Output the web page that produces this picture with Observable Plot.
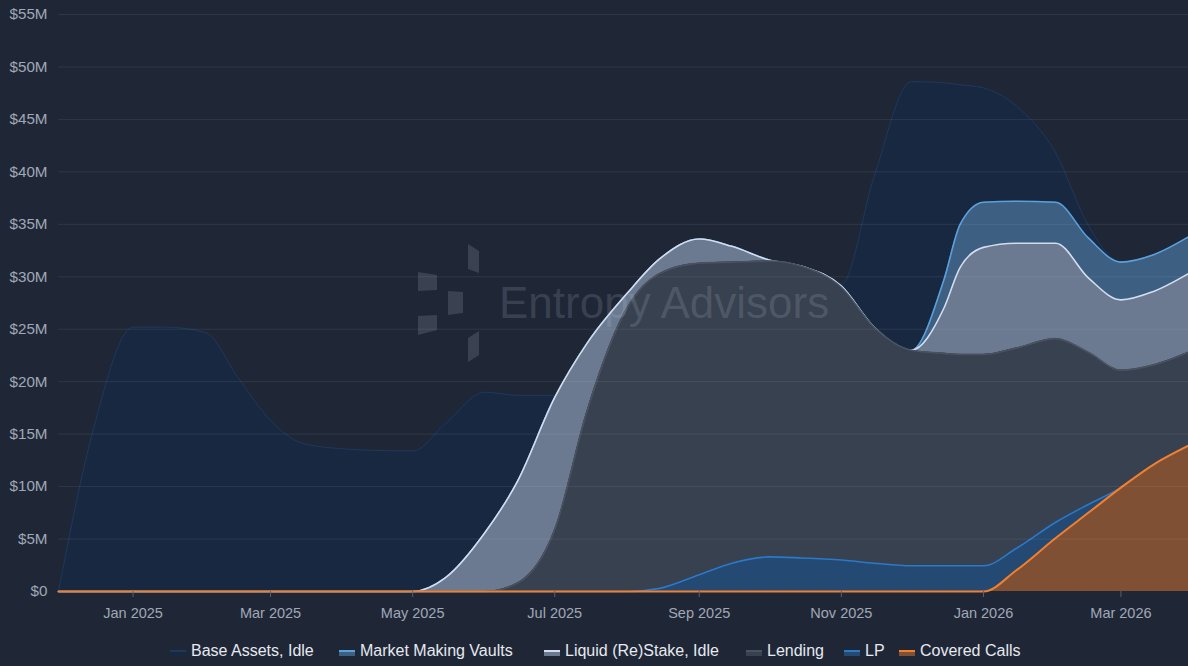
<!DOCTYPE html>
<html>
<head>
<meta charset="utf-8">
<script src="https://cdn.jsdelivr.net/npm/d3@7"></script>
<script src="https://cdn.jsdelivr.net/npm/@observablehq/plot@0.6"></script>
<style>
  html, body { margin: 0; padding: 0; background: #1f2737; }
  #wrap { position: relative; width: 1188px; height: 666px; overflow: hidden; background: #1f2737; }
  #legend {
    position: absolute; left: 0; top: 630px; width: 1188px; height: 36px;
    font-family: "Liberation Sans", Arial, sans-serif; font-size: 16px; color: #e6e9ef;
  }
  .item { position: absolute; top: 12px; display: flex; align-items: center; white-space: nowrap; line-height: 18px; }
  .sw { width: 16px; height: 4px; margin-right: 5px; margin-top: 4px; }
</style>
</head>
<body>
<div id="wrap">
  <div id="chart"></div>
  <div id="legend"></div>
</div>
<script>
// ---- data (values in $M) ----
const dates = [
  "2024-11-30","2024-12-15","2025-01-01","2025-01-15","2025-02-01","2025-02-15",
  "2025-03-01","2025-03-15","2025-04-01","2025-04-15","2025-05-01","2025-05-15",
  "2025-06-01","2025-06-15","2025-07-01","2025-07-15","2025-08-01","2025-08-15",
  "2025-09-01","2025-09-15","2025-10-01","2025-10-15","2025-11-01","2025-11-15",
  "2025-12-01","2025-12-15","2025-12-22","2026-01-01","2026-01-15","2026-02-01","2026-02-15",
  "2026-03-01","2026-03-15","2026-03-30"
];
const seriesNames = ["Base Assets, Idle","Market Making Vaults","Liquid (Re)Stake, Idle","Lending","LP","Covered Calls"];
const baseAssetsIdle = [0,15.5,25.2,25.2,24.7,20.4,16.3,14.1,13.6,13.45,13.4,14.7,13.4,8.2,0.2,0,0,0,0,0,0,0,0.2,14.3,25.6,18.8,13.3,10.9,9.1,4.7,1.2,0,0,0];
const marketMakingVaults = [0,0,0,0,0,0,0,0,0,0,0,0,0,0,0,0,0,0,0,0,0,0,0,0,0,2.7,4.1,4.3,4.0,3.9,3.8,3.6,3.5,3.5];
const liquidRestakeIdle = [0,0,0,0,0,0,0,0,0,0,0,1.3,5.6,9.7,12.6,6.4,1.4,1.4,2.3,1.5,0.1,0,0.1,0,0,4.3,8.3,10.2,10.0,9.1,7.1,6.7,7.0,7.5];
const lending = [0,0,0,0,0,0,0,0,0,0,0,0,0,0.8,5.9,17.3,27.0,30.0,29.7,28.7,28.2,27.8,26.0,22.5,20.55,20.25,20.15,20.15,19.1,17.5,14.5,11.2,9.5,8.9];
const lp = [0,0,0,0,0,0,0,0,0,0,0,0,0,0,0,0,0,0.3,1.6,2.7,3.3,3.2,3.0,2.7,2.45,2.45,2.45,2.45,2.1,1.5,0.8,0,0,0];
const coveredCalls = [0,0,0,0,0,0,0,0,0,0,0,0,0,0,0,0,0,0,0,0,0,0,0,0,0,0,0,0,2.0,5.1,7.5,9.9,12.1,13.9];
const yTicks = [0,5,10,15,20,25,30,35,40,45,50,55];
const xTicks = ["2025-01-01","2025-03-01","2025-05-01","2025-07-01","2025-09-01","2025-11-01","2026-01-01","2026-03-01"];

const seriesValues = [baseAssetsIdle, marketMakingVaults, liquidRestakeIdle, lending, lp, coveredCalls];
const fills = {
  "Base Assets, Idle": "#192841",
  "Market Making Vaults": "#3d5f82",
  "Liquid (Re)Stake, Idle": "#6b7a90",
  "Lending": "#38414f",
  "LP": "#244a73",
  "Covered Calls": "#7f5033"
};
const strokes = {
  "Base Assets, Idle": "#1f3859",
  "Market Making Vaults": "#5aa0dc",
  "Liquid (Re)Stake, Idle": "#d2def0",
  "Lending": "#4a5262",
  "LP": "#2e78c8",
  "Covered Calls": "#f08030"
};
const stackOrder = ["Covered Calls","LP","Lending","Liquid (Re)Stake, Idle","Market Making Vaults","Base Assets, Idle"];
const legendLeft = [170, 339, 544, 746, 844, 899];

const data = [];
seriesNames.forEach((s, i) => {
  seriesValues[i].forEach((v, j) => data.push({date: new Date(dates[j]), series: s, value: v}));
});

const stackOpts = {x: "date", y: "value", z: "series", order: stackOrder};

// each series: its area, then its top line (later series drawn over earlier ones)
const seriesMarks = seriesNames.flatMap(s => [
  Plot.areaY(data, Plot.filter(d => d.series === s,
    Plot.stackY({...stackOpts, fill: fills[s], curve: "monotone-x"}))),
  Plot.lineY(data, Plot.filter(d => d.series === s,
    Plot.stackY2({...stackOpts, stroke: strokes[s],
      strokeWidth: s === "Base Assets, Idle" ? 1 : (s === "Covered Calls" ? 2 : 1.6),
      curve: "monotone-x"})))
]);

const chart = Plot.plot({
  width: 1188,
  height: 630,
  marginLeft: 58,
  marginRight: 0,
  marginTop: 14,
  marginBottom: 39,
  style: {
    background: "#1f2737",
    color: "#a0a8b6",
    fontFamily: "'Liberation Sans', Arial, sans-serif",
    fontSize: "14.5px",
    overflow: "visible"
  },
  x: {type: "utc", domain: [new Date("2024-11-30"), new Date("2026-03-30")]},
  y: {domain: [0, 55]},
  marks: [
    ...seriesMarks,
    Plot.gridY(yTicks.filter(d => d > 0), {stroke: "#ffffff", strokeOpacity: 0.075, strokeWidth: 1}),
    Plot.axisY(yTicks, {tickSize: 0, tickPadding: 11, fontSize: 15.2, tickFormat: d => d === 0 ? "$0" : `$${d}M`, label: null, fill: "#a0a8b6"}),
    Plot.axisX(xTicks.map(d => new Date(d)), {tickSize: 6, tickPadding: 10, tickFormat: d3.utcFormat("%b %Y"), label: null, stroke: "#566072", fill: "#a0a8b6"})
  ]
});
document.getElementById("chart").appendChild(chart);

// watermark (decorative overlay)
const svg = d3.select(chart);
const wm = svg.append("g").attr("fill", "#c8d2e2").attr("fill-opacity", 0.16).attr("pointer-events", "none");
[
  [[418,272],[437,275],[437,290],[418,291]],
  [[418,316],[437,315],[437,330],[418,335]],
  [[448,291],[463,292],[463,313],[448,315]],
  [[468,244],[479,251],[479,273],[468,269]],
  [[468,338],[479,331],[479,355],[468,362]]
].forEach(p => wm.append("polygon").attr("points", p.map(q => q.join(",")).join(" ")));
wm.append("text").attr("x", 499).attr("y", 318).attr("text-anchor", "start")
  .attr("font-family", "'Liberation Sans', Arial, sans-serif").attr("font-size", 44)
  .text("Entropy Advisors");

// legend
const legend = d3.select("#legend");
seriesNames.forEach((s, i) => {
  const it = legend.append("div").attr("class", "item").style("left", legendLeft[i] + "px");
  it.append("div").attr("class", "sw")
    .style("background", fills[s])
    .style("border-top", `2px solid ${strokes[s]}`);
  it.append("span").text(s);
});
</script>
</body>
</html>
